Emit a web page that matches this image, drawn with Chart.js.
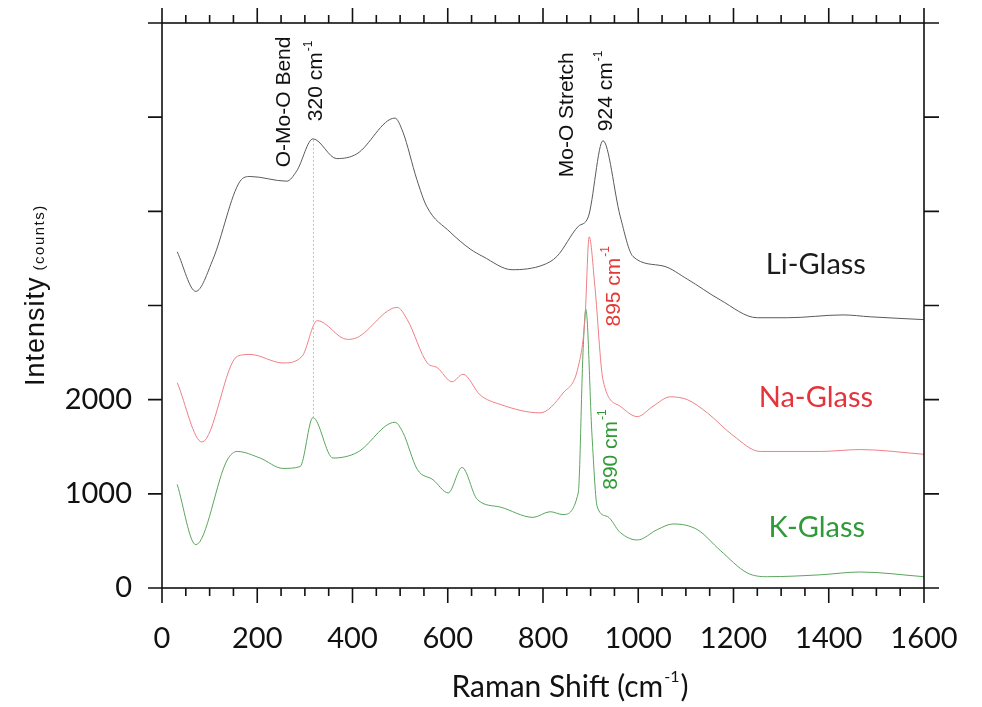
<!DOCTYPE html>
<html>
<head>
<meta charset="utf-8">
<script src="https://cdn.jsdelivr.net/npm/chart.js@4.4.1/dist/chart.umd.min.js"></script>
<style>
  html, body { margin: 0; padding: 0; background: #fff; }
  #wrap { width: 982px; height: 707px; position: relative; }
</style>
</head>
<body>
<div id="wrap"><canvas id="raman" width="982" height="707"></canvas></div>
<script>
// Raman spectra of the three molybdate glasses (offset vertically)
const liShift = [32, 71, 107, 164, 185, 262, 283, 317, 367, 409, 489, 506, 535, 556, 605, 647, 674, 735, 800, 829, 874, 895, 926, 962, 989, 1052, 1103, 1172, 1250, 1313, 1430, 1487, 1600];
const liCounts = [3570, 3150, 3490, 4320, 4370, 4320, 4430, 4770, 4560, 4610, 4990, 4840, 4340, 4050, 3780, 3600, 3520, 3380, 3430, 3520, 3840, 3940, 4750, 3950, 3520, 3420, 3280, 3060, 2870, 2870, 2900, 2880, 2850];

const naShift = [32, 84, 158, 185, 254, 294, 326, 389, 410, 494, 515, 557, 578, 609, 632, 668, 710, 794, 842, 874, 888, 897, 909, 926, 962, 998, 1031, 1067, 1103, 1145, 1199, 1256, 1382, 1466, 1600];
const naCounts = [2180, 1550, 2460, 2480, 2390, 2460, 2840, 2640, 2660, 2980, 2850, 2390, 2340, 2190, 2270, 2050, 1950, 1860, 2070, 2350, 2850, 3730, 3200, 2210, 1930, 1820, 1930, 2030, 2000, 1860, 1620, 1450, 1450, 1470, 1420];

const kShift = [32, 71, 137, 158, 206, 254, 290, 317, 359, 410, 489, 506, 536, 569, 601, 630, 662, 710, 779, 815, 842, 874, 884, 890, 903, 914, 935, 962, 998, 1040, 1073, 1124, 1172, 1229, 1271, 1382, 1466, 1600];
const kCounts = [1100, 460, 1360, 1450, 1380, 1270, 1290, 1810, 1380, 1440, 1760, 1650, 1260, 1150, 1010, 1280, 940, 860, 750, 810, 780, 1010, 2500, 2960, 1610, 860, 760, 590, 510, 620, 680, 620, 400, 160, 120, 140, 170, 120];

// dotted guide through the 320 cm-1 bend
const guideShift = [318, 318];
const guideCounts = [4760, 1800];

const yLabelValues = [0, 1000, 2000];

// text labels placed in data units
const seriesLabels = [
    { text: 'Li-Glass', x: 1373, y: 3436, color: '#1c1c1c' },
    { text: 'Na-Glass', x: 1373, y: 2021, color: '#e4343c' },
    { text: 'K-Glass', x: 1375, y: 638, color: '#2f9a3a' }
];
const peakNotes = [
    { text: 'O-Mo-O Bend', sup: '', x: 252, y: 4468, color: '#111' },
    { text: '320 cm', sup: '-1', x: 321, y: 4957, color: '#111' },
    { text: 'Mo-O Stretch', sup: '', x: 848, y: 4362, color: '#111' },
    { text: '924 cm', sup: '-1', x: 930, y: 4851, color: '#111' },
    { text: '895 cm', sup: '-1', x: 945, y: 2777, color: '#e53935' },
    { text: '890 cm', sup: '-1', x: 939, y: 1043, color: '#2e9a33' }
];

const pts = (xs, ys) => xs.map((x, i) => ({ x: x, y: ys[i] }));

function spectrum(label, xs, ys, color) {
    return {
        label: label,
        data: pts(xs, ys),
        borderColor: color,
        borderWidth: 1,
        pointRadius: 0,
        cubicInterpolationMode: 'monotone',
        fill: false
    };
}

// pin the axis boxes so the plot frame lands where the original one is
function pinScale(s, w, h) {
    if (w !== null) s.width = w;
    if (h !== null) s.height = h;
    s.paddingTop = 0;
    s.paddingBottom = 0;
    s.paddingLeft = 0;
    s.paddingRight = 0;
}

const overlay = {
    id: 'overlay',
    afterDraw(chart) {
        const ctx = chart.ctx;
        const a = chart.chartArea;
        const xs = chart.scales.x;
        const ys = chart.scales.y;
        ctx.save();

        // frame + ticks on all four sides, pointing outwards
        ctx.strokeStyle = '#111';
        ctx.lineWidth = 1.6;
        ctx.strokeRect(a.left, a.top, a.right - a.left, a.bottom - a.top);
        ctx.beginPath();
        for (let v = 0; v <= 1600; v += 50) {
            const px = xs.getPixelForValue(v);
            const len = v % 200 === 0 ? 15 : 8;
            ctx.moveTo(px, a.bottom); ctx.lineTo(px, a.bottom + len);
            ctx.moveTo(px, a.top); ctx.lineTo(px, a.top - len);
        }
        for (let v = 0; v <= 6000; v += 1000) {
            const py = ys.getPixelForValue(v);
            ctx.moveTo(a.left - 14, py); ctx.lineTo(a.left, py);
            ctx.moveTo(a.right, py); ctx.lineTo(a.right + 15, py);
        }
        ctx.stroke();

        // series names
        ctx.font = '29px Lato';
        ctx.textAlign = 'center';
        ctx.textBaseline = 'middle';
        seriesLabels.forEach(s => {
            ctx.fillStyle = s.color;
            ctx.fillText(s.text, xs.getPixelForValue(s.x), ys.getPixelForValue(s.y));
        });

        // rotated peak annotations
        const size = 21;
        peakNotes.forEach(n => {
            const cx = xs.getPixelForValue(n.x);
            const by = ys.getPixelForValue(n.y);
            ctx.save();
            ctx.translate(cx + size * 0.36, by);
            ctx.rotate(-Math.PI / 2);
            ctx.fillStyle = n.color;
            ctx.textAlign = 'left';
            ctx.textBaseline = 'alphabetic';
            ctx.font = size + 'px "Liberation Sans"';
            ctx.fillText(n.text, 0, 0);
            if (n.sup) {
                const w = ctx.measureText(n.text).width;
                ctx.font = Math.round(size * 0.55) + 'px "Liberation Sans"';
                ctx.fillText(n.sup, w + 1, -size * 0.5);
            }
            ctx.restore();
        });

        // y title
        ctx.save();
        ctx.translate(44, 386);
        ctx.rotate(-Math.PI / 2);
        ctx.fillStyle = '#111';
        ctx.textAlign = 'left';
        ctx.textBaseline = 'alphabetic';
        ctx.font = '27px "Liberation Sans"';
        ctx.letterSpacing = '1px';
        ctx.fillText('Intensity', 0, 0);
        const iw = ctx.measureText('Intensity').width;
        ctx.font = '15px "Liberation Sans"';
        ctx.letterSpacing = '1.5px';
        ctx.fillText('(counts)', iw + 6, 0);
        ctx.restore();

        // x title with superscript
        ctx.fillStyle = '#111';
        ctx.textAlign = 'left';
        ctx.textBaseline = 'alphabetic';
        const base = 'Raman Shift (cm';
        ctx.font = '30px Lato';
        const bw = ctx.measureText(base).width;
        ctx.font = '16px Lato';
        const sw = ctx.measureText('-1').width;
        ctx.font = '30px Lato';
        const pw = ctx.measureText(')').width;
        const left = 570 - (bw + sw + pw + 2) / 2;
        const baseY = 697;
        ctx.fillText(base, left, baseY);
        ctx.font = '16px Lato';
        ctx.fillText('-1', left + bw + 1, baseY - 15);
        ctx.font = '30px Lato';
        ctx.fillText(')', left + bw + sw + 2, baseY);

        ctx.restore();
    }
};

new Chart(document.getElementById('raman'), {
    type: 'line',
    data: {
        datasets: [
            {
                label: 'guide',
                data: pts(guideShift, guideCounts),
                borderColor: '#bdbdbd',
                borderWidth: 1,
                borderDash: [2, 2],
                pointRadius: 0
            },
            spectrum('Li-Glass', liShift, liCounts, '#5a5a5a'),
            spectrum('Na-Glass', naShift, naCounts, '#ef7f86'),
            spectrum('K-Glass', kShift, kCounts, '#5aa55e')
        ]
    },
    options: {
        responsive: false,
        animation: false,
        layout: { padding: { left: 0, right: 58, top: 23, bottom: 0 } },
        plugins: { legend: { display: false }, tooltip: { enabled: false } },
        scales: {
            x: {
                type: 'linear',
                min: 0,
                max: 1600,
                grid: { display: false, drawTicks: false },
                border: { display: false },
                ticks: {
                    stepSize: 200,
                    autoSkip: false,
                    maxRotation: 0,
                    padding: 33,
                    color: '#111',
                    font: { family: 'Lato', size: 29 },
                    callback: v => String(v)
                },
                afterFit: s => pinScale(s, null, 119)
            },
            y: {
                type: 'linear',
                min: 0,
                max: 6000,
                grid: { display: false, drawTicks: false },
                border: { display: false },
                ticks: {
                    stepSize: 1000,
                    padding: 30,
                    color: '#111',
                    font: { family: 'Lato', size: 29 },
                    callback: v => yLabelValues.includes(v) ? String(v) : ''
                },
                afterFit: s => pinScale(s, 162, null)
            }
        }
    },
    plugins: [overlay]
});
</script>
</body>
</html>
